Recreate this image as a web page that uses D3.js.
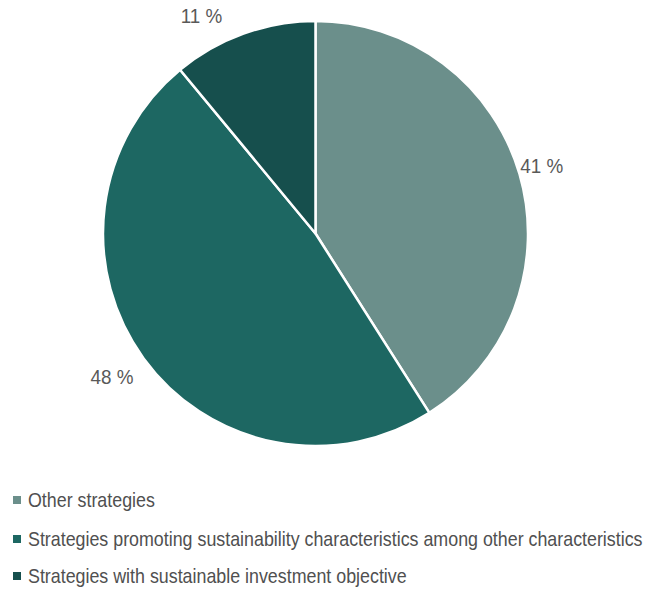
<!DOCTYPE html>
<html>
<head>
<meta charset="utf-8">
<script src="https://cdn.jsdelivr.net/npm/d3@7"></script>
<style>
  body { margin: 0; background: #fff; }
  text { font-family: "Liberation Sans", Arial, sans-serif; }
</style>
</head>
<body>
<script>
const categories = [
  'Other strategies',
  'Strategies promoting sustainability characteristics among other characteristics',
  'Strategies with sustainable investment objective',
];
const shares = [41, 48, 11];
const labels = ['41 %', '48 %', '11 %'];
const colors = ['#6b8f8b', '#1d6762', '#164f4d'];

const width = 661;
const height = 591;
const cx = 315.5;
const cy = 233.5;
const radius = 212.5;
const labelRadius = 243;
const labelShiftX = -7;
const topMargin = 8;
const condense = 0.92;

function main() {
  const svg = d3.select('body').append('svg').attr('width', width).attr('height', height);

  const data = categories.map((c, i) => ({ name: c, value: shares[i], label: labels[i], color: colors[i] }));
  const pie = d3.pie().value(d => d.value).sort(null);
  const arc = d3.arc().innerRadius(0).outerRadius(radius);
  const arcs = pie(data);

  const g = svg.append('g').attr('transform', `translate(${cx}, ${cy})`);

  g.selectAll('path')
    .data(arcs)
    .enter()
    .append('path')
    .attr('d', arc)
    .attr('fill', d => d.data.color)
    .attr('stroke', '#fff')
    .attr('stroke-width', 2.5)
    .attr('stroke-linejoin', 'round');

  createLabels(g, arcs);
  createLegend(svg, data);
}

function createLabels(g, arcs) {
  const fontSize = 20.5;
  const capHeight = fontSize * 0.716;

  g.selectAll('text.label')
    .data(arcs)
    .enter()
    .append('text')
    .attr('class', 'label')
    .attr('text-anchor', 'middle')
    .attr('font-size', fontSize)
    .attr('fill', '#595959')
    .text(d => d.data.label)
    .each(function (d) {
      const mid = (d.startAngle + d.endAngle) / 2;
      let x = Math.sin(mid) * labelRadius;
      let y = -Math.cos(mid) * labelRadius;
      // keep the label inside the top edge by sliding it round the ring
      const minY = topMargin + capHeight / 2 - cy;
      if (y < minY) {
        y = minY;
        x = Math.sign(Math.sin(mid)) * Math.sqrt(labelRadius * labelRadius - y * y);
      }
      x += labelShiftX;
      d3.select(this)
        .attr('transform', `translate(${x}, ${y + capHeight / 2}) scale(${condense}, 1)`);
    });
}

function createLegend(svg, data) {
  const fontSize = 20.5;
  const rowY = [500, 539, 576];
  const textWidth = 615;

  const legend = svg.append('g').attr('id', 'legend');

  const rows = legend
    .selectAll('g')
    .data(data)
    .enter()
    .append('g')
    .attr('transform', (_, i) => `translate(0, ${rowY[i]})`);

  rows
    .append('rect')
    .attr('x', 13)
    .attr('y', -4)
    .attr('width', 8)
    .attr('height', 8)
    .attr('fill', d => d.color);

  const texts = rows
    .append('text')
    .attr('font-size', fontSize)
    .attr('fill', '#505050')
    .attr('y', fontSize * 0.716 / 2)
    .text(d => d.name);

  // source text is horizontally condensed; scale to match the longest row
  const longest = d3.max(texts.nodes(), n => n.getComputedTextLength());
  const sx = textWidth / longest;
  texts.attr('transform', `translate(28, 0) scale(${sx}, 1)`);
}

main();
</script>
</body>
</html>
